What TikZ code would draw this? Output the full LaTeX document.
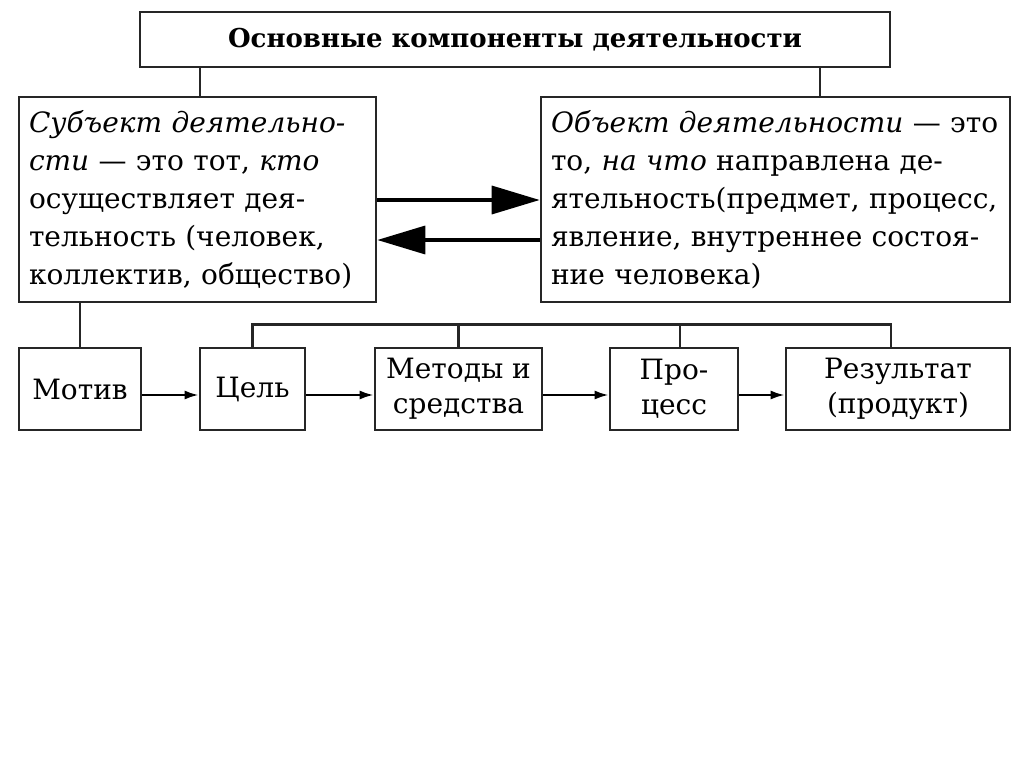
\documentclass[tikz,border=0pt]{standalone}
\usepackage{fontspec}
\setmainfont{DejaVu Serif}
\usetikzlibrary{arrows.meta}
\begin{document}
\begin{tikzpicture}[x=1pt,y=-1pt,every node/.style={rectangle,draw=black!85,line width=2.6pt,inner sep=0pt,font=\fontsize{28}{35}\selectfont},
	textbox/.style={align=left,inner sep=10pt,minimum height=205pt,font=\fontsize{28}{38}\selectfont},
	bigarrow/.style={line width=3.5pt,-{Triangle[length=48pt,width=28pt]}},
	flow/.style={line width=2.4pt,-{Latex[length=14pt,width=9pt]}}]
			\useasboundingbox (0,0) rectangle (1024,767);
			%top node
			\node [minimum width=750pt,minimum height=55pt,font=\fontsize{26}{30}\selectfont\bfseries] (main) at (515,39.5) {Основные компоненты деятельности};

			%middle nodes
			\node [textbox,text width=337pt] (subj) at (197.5,199.5) {\textit{Субъект деятельно-}\\\textit{сти} — это тот, \textit{кто}\\осуществляет дея-\\тельность (человек,\\коллектив, общество)};
			\node [textbox,text width=449pt] (obj) at (775.5,199.5) {\textit{Объект деятельности} — это\\то, \textit{на что} направлена де-\\ятельность(предмет, процесс,\\явление, внутреннее состоя-\\ние человека)};

			%bottom nodes
			\node [minimum width=122pt,minimum height=82pt] (motive) at (80,389) {Мотив};
			\node [minimum width=105pt,minimum height=82pt] (goal) at (252.5,389) {Цель};
			\node [minimum width=167pt,minimum height=82pt,align=center] (means) at (458.5,389) {Методы и\\средства};
			\node [minimum width=128pt,minimum height=82pt,align=center] (process) at (674,389) {Про-\\цесс};
			\node [minimum width=224pt,minimum height=82pt,align=center] (result) at (898,389) {Результат\\(продукт)};

			%edges
			\draw[line width=2.6pt,black!85] (main.south -| 200,0) -- (200,97);
			\draw[line width=2.6pt,black!85] (main.south -| 820,0) -- (820,97);
			\draw[line width=2.6pt,black!85] (subj.south -| motive.north) -- (motive.north);
			\draw[bigarrow] (subj.east |- 0,200) -- (obj.west |- 0,200);
			\draw[bigarrow] (obj.west |- 0,240) -- (subj.east |- 0,240);
			\draw[line width=2.6pt,black!85] (goal.north) -- ++(0,-22) -| ([xshift=-7pt]result.north);
			\draw[line width=2.6pt,black!85] (means.north) -- ++(0,-22);
			\draw[line width=2.6pt,black!85] ([xshift=6pt]process.north) -- ++(0,-22);
			\foreach \a/\b in {motive/goal,goal/means,means/process,process/result}
				\draw[flow] ([yshift=-6pt]\a.east) -- ([yshift=-6pt]\b.west);
		\end{tikzpicture}
\end{document}
